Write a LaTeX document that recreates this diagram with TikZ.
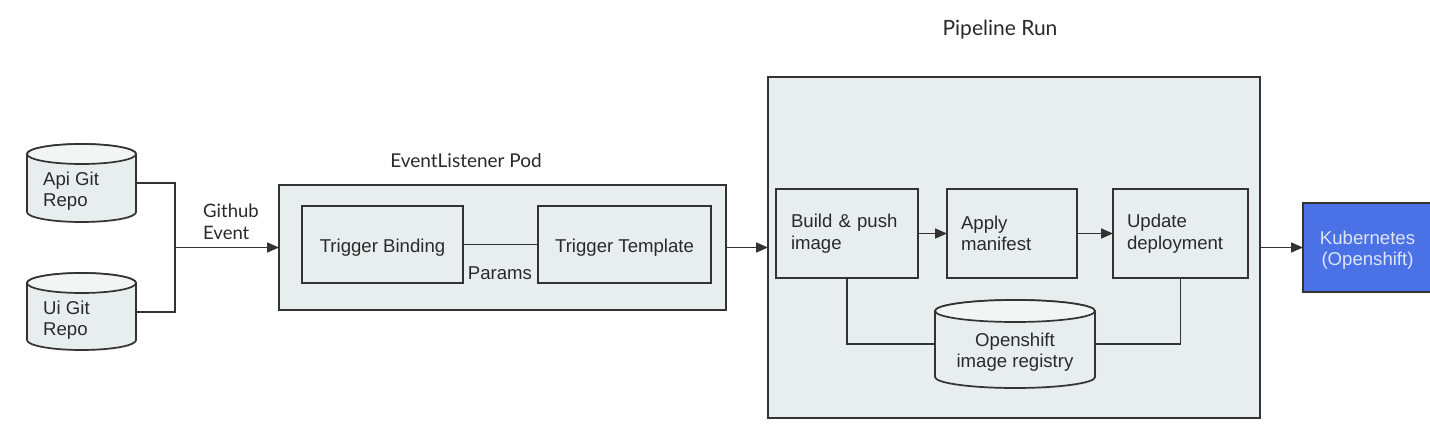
\documentclass[tikz,border=0pt]{standalone}
\usepackage{fontspec}
\setmainfont{Liberation Sans}
\newfontfamily\latofont{Lato}
\usetikzlibrary{arrows.meta,shadows}
\definecolor{boxfill}{HTML}{E8EDED}
\definecolor{topfill}{HTML}{F3F5F5}
\definecolor{edge}{HTML}{333333}
\definecolor{kubefill}{HTML}{4A72E6}
\definecolor{kubetext}{HTML}{DDE4FA}
\definecolor{txt}{HTML}{2A2A2A}
\newcommand{\lowr}[1]{\raisebox{-3pt}[\height][\depth]{#1}}
\tikzset{
  box/.style={draw=edge, fill=boxfill, line width=1.7pt, inner sep=0pt, outer sep=0pt,
    font=\fontsize{18.6}{21.5}\selectfont, text=txt,
    drop shadow={shadow xshift=1.2pt, shadow yshift=-1.2pt, opacity=0.18}},
  lbox/.style={box, align=left},
  ghost/.style={inner sep=0pt, outer sep=0pt},
  cyltext/.style={inner sep=0pt, font=\fontsize{18.6}{21.5}\selectfont, text=txt},
  title/.style={inner sep=0pt, font=\latofont\fontsize{19}{22}\selectfont, text=txt},
  conn/.style={draw=edge, line width=1.7pt},
  arr/.style={conn, -{Triangle[length=12pt,width=10pt]}},
}
\newcommand{\mycyl}[6]{% name, x1, x2, ytop, ybot, ry
  \pgfmathsetmacro{\rx}{(#3-#2)/2}
  \pgfmathsetmacro{\cx}{(#2+#3)/2}
  \pgfmathsetmacro{\ya}{#4-#6}
  \pgfmathsetmacro{\yb}{#5+#6}
  \pgfmathsetmacro{\cy}{(#4+#5)/2}
  \pgfmathsetmacro{\ww}{#3-#2}
  \pgfmathsetmacro{\hh}{#4-#5}
  \path[draw=edge, fill=boxfill, line width=1.7pt, drop shadow={shadow xshift=1.2pt, shadow yshift=-1.2pt, opacity=0.18}]
    (#2pt,\ya pt) -- (#2pt,\yb pt)
    arc[start angle=180, end angle=360, x radius=\rx pt, y radius=#6pt]
    -- (#3pt,\ya pt)
    arc[start angle=0, end angle=180, x radius=\rx pt, y radius=#6pt] -- cycle;
  \path[draw=edge, fill=topfill, line width=1.7pt] (\cx pt,\ya pt) ellipse[x radius=\rx pt, y radius=#6pt];
  \node[ghost, minimum width=\ww pt, minimum height=\hh pt] (#1) at (\cx pt,\cy pt) {};
}
\begin{document}
\begin{tikzpicture}[x=1pt,y=1pt]
\useasboundingbox (0,0) rectangle (1430,440);
\fill[white] (0,0) rectangle (1430,440);

% git repos
\mycyl{api}{27}{136}{296}{218}{10}
\mycyl{ui}{27}{136}{167}{90}{10}
\node[cyltext, anchor=west, align=left] (apitext) at (43,249) {Api Git\\Repo};
\node[cyltext, anchor=west, align=left] (uitext) at (43,120) {Ui Git\\Repo};

% EventListener
\node[title] (eltitle) at (466,279) {EventListener Pod};
\node[box, minimum width=447pt, minimum height=125pt] (el) at (502.5,192.5) {};
\node[box, minimum width=161pt, minimum height=77pt] (tb) at (382.5,195.5) {\lowr{Trigger Binding}};
\node[box, minimum width=173pt, minimum height=77pt] (tt) at (624.5,195.5) {\lowr{Trigger Template}};
\draw[conn] (tb.east) -- (tt.west);
\node[cyltext] (params) at (500,167) {Params};

% junction
\coordinate (jn) at (175,192.5);
\draw[conn] (api.east |- 0,257) -| (jn);
\draw[conn] (ui.east |- 0,128) -| (jn);
\draw[arr] (jn) -- (el.west);
\node[title, font=\latofont\fontsize{18.5}{22}\selectfont, anchor=west, align=left] (gh) at (203,218) {Github\\Event};

% Pipeline
\node[title, font=\latofont\fontsize{21}{24}\selectfont] (prtitle) at (1000,410) {Pipeline Run};
\node[box, minimum width=492pt, minimum height=341pt] (pr) at (1014,192.5) {};
\draw[arr] (el.east) -- (pr.west);
\node[lbox, minimum width=142pt, minimum height=89pt, text width=112pt, inner xsep=15pt] (build) at (847,206.5) {Build \& push\\image};
\node[lbox, minimum width=130pt, minimum height=89pt, text width=102pt, inner xsep=14pt] (apply) at (1012,206.5) {Apply\\manifest};
\node[lbox, minimum width=135pt, minimum height=89pt, text width=107pt, inner xsep=14pt] (update) at (1180.5,206.5) {Update\\deployment};
\draw[arr] (build.east) -- (apply.west);
\draw[arr] (apply.east) -- (update.west);

\mycyl{reg}{935}{1095}{140}{52}{11}
\node[cyltext, align=center] (regtext) at (1015,88) {Openshift\\image registry};
\draw[conn] (build.south) |- (reg.west);
\draw[conn] (update.south) |- (reg.east);

% Kubernetes
\node[box, fill=kubefill, text=kubetext, minimum width=129pt, minimum height=89pt] (kube) at (1367.5,192.5) {\lowr{\begin{tabular}{@{}c@{}}Kubernetes\\(Openshift)\end{tabular}}};
\draw[arr] (pr.east) -- (kube.west);
\end{tikzpicture}
\end{document}
